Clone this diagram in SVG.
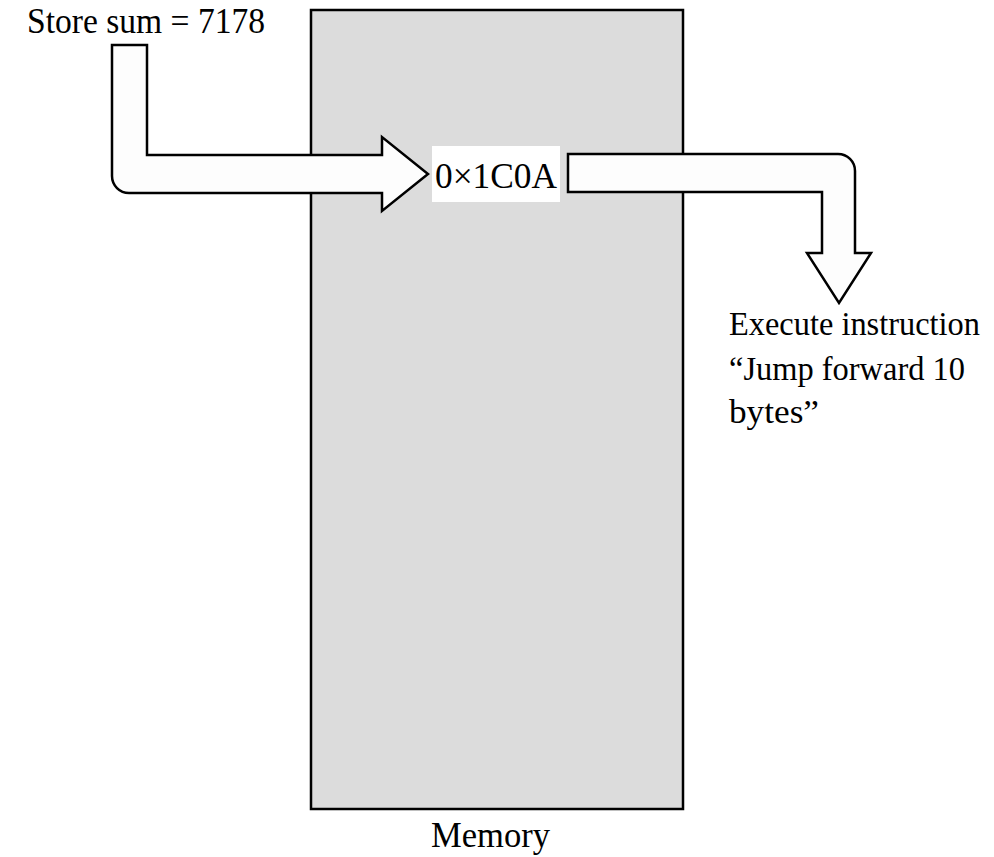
<svg xmlns="http://www.w3.org/2000/svg" width="994" height="857" viewBox="0 0 994 857">
<style>
.t{font-family:"Liberation Serif","Times New Roman",serif;font-size:35px;fill:#000}
.e{font-size:33px}
.arr{fill:#fdfdfd;stroke:#000;stroke-width:2.5;stroke-linejoin:miter}
</style>
<rect width="994" height="857" fill="#fff"/>
<g id="memory">
<rect x="311" y="10" width="372" height="799" fill="#dcdcdc" stroke="#000" stroke-width="2.5"/>
<text class="t" x="431" y="847" textLength="119" lengthAdjust="spacingAndGlyphs">Memory</text>
</g>
<g id="connectors">
<path class="arr" d="M112,45 H147 V155 H382 V137 L428,174 L382,211 V193 H129 A17,17 0 0 1 112,176 Z"/>
<path class="arr" d="M568,154 H838 A17,17 0 0 1 855,171 V253 H871 L839,303 L807,253 H822 V192 H568 Z"/>
</g>
<g id="store">
<text class="t" x="27" y="33" textLength="238" lengthAdjust="spacingAndGlyphs">Store sum = 7178</text>
</g>
<g id="address">
<rect x="432" y="146" width="128" height="56" fill="#fff"/>
<text class="t" x="435" y="188" textLength="122" lengthAdjust="spacingAndGlyphs">0×1C0A</text>
</g>
<g id="execute">
<text class="t e" x="729" y="335" textLength="251" lengthAdjust="spacingAndGlyphs">Execute instruction</text>
<text class="t e" x="729" y="380" textLength="236" lengthAdjust="spacingAndGlyphs">“Jump forward 10</text>
<text class="t e" x="729" y="423" textLength="90" lengthAdjust="spacingAndGlyphs">bytes”</text>
</g>
</svg>
